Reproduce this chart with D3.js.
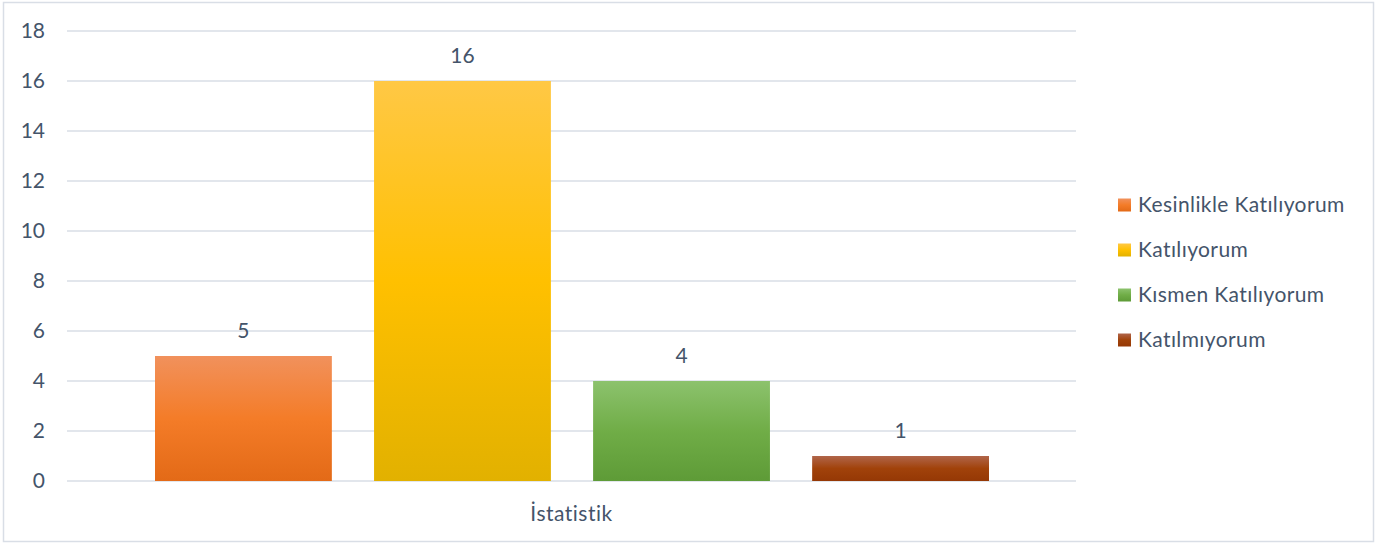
<!DOCTYPE html>
<html><head><meta charset="utf-8">
<script src="https://cdn.jsdelivr.net/npm/d3@7"></script>
<style>body{margin:0;background:#fff;} text{font-family:Lato,"Open Sans",sans-serif;}</style>
</head><body>
<svg id="c" width="1393" height="544"></svg>
<script>
const categories = ["İstatistik"];
const seriesNames = ["Kesinlikle Katılıyorum","Katılıyorum","Kısmen Katılıyorum","Katılmıyorum"];
const seriesValues = [5, 16, 4, 1];
const yTicks = [0,2,4,6,8,10,12,14,16,18];
const gradStops = [
  ["#F1915C","#F47C28","#E36A17"],
  ["#FFC845","#FFC000","#E2B100"],
  ["#8CC26D","#70AD47","#5E9B37"],
  ["#B0654A","#A1420A","#953805"]
];

const svg = d3.select("#c");
const textColor = "#44546A";
const fs = "21px";
svg.append("rect").attr("x",3.5).attr("y",2.5).attr("width",1370).attr("height",539)
  .attr("fill","#fff").attr("stroke","#D9DEE6").attr("stroke-width",1.5);

const defs = svg.append("defs");
gradStops.forEach((s,i)=>{
  const g = defs.append("linearGradient").attr("id","g"+i).attr("x1",0).attr("y1",0).attr("x2",0).attr("y2",1);
  g.append("stop").attr("offset","0%").attr("stop-color",s[0]);
  g.append("stop").attr("offset","50%").attr("stop-color",s[1]);
  g.append("stop").attr("offset","100%").attr("stop-color",s[2]);
});

const pLeft = 67, pRight = 1076, pTop = 31, pBottom = 481;
const y = d3.scaleLinear().domain([0,18]).range([pBottom, pTop]);
const x0 = d3.scaleBand().domain(categories).range([pLeft,pRight]).paddingInner(0).paddingOuter(0);
const x1 = d3.scaleBand().domain(seriesNames).range([155, 989]).paddingInner(42/218).paddingOuter(0);

// gridlines
svg.append("g").selectAll("line").data(yTicks).join("line")
  .attr("x1",pLeft).attr("x2",pRight).attr("y1",d=>y(d)).attr("y2",d=>y(d))
  .attr("stroke","#D9DEE6").attr("stroke-width",1.5);

// y axis labels
const yAxis = d3.axisLeft(y).tickValues(yTicks).tickSize(0).tickPadding(0);
const ya = svg.append("g").attr("transform",`translate(45,0)`).call(yAxis);
ya.select(".domain").remove();
ya.selectAll("text").attr("fill",textColor).style("font-size",fs).style("font-family","Lato");

// bars
svg.append("g").selectAll("rect").data(seriesValues).join("rect")
  .attr("x",(d,i)=>x1(seriesNames[i])).attr("width",x1.bandwidth())
  .attr("y",d=>y(d)).attr("height",d=>y(0)-y(d))
  .attr("fill",(d,i)=>`url(#g${i})`);

// labels
svg.append("g").selectAll("text").data(seriesValues).join("text")
  .attr("x",(d,i)=>x1(seriesNames[i])+x1.bandwidth()/2).attr("y",d=>y(d)-18)
  .attr("text-anchor","middle").attr("fill",textColor).style("font-size",fs).text(d=>d);

// x axis label
const xa = svg.append("g").attr("transform",`translate(0,${pBottom+25})`)
  .call(d3.axisBottom(x0).tickSize(0).tickPadding(0));
xa.select(".domain").remove();
xa.selectAll("text").attr("fill",textColor).style("font-size",fs).style("font-family","Lato")
  .style("letter-spacing","0.5px").attr("dy","0.71em");

// legend
const lg = svg.append("g").selectAll("g").data(seriesNames).join("g")
  .attr("transform",(d,i)=>`translate(1118,${205+i*45})`);
lg.append("rect").attr("x",0).attr("y",-6.5).attr("width",13).attr("height",13)
  .attr("fill",(d,i)=>`url(#g${i})`);
lg.append("text").attr("x",20).attr("y",0).attr("dy","0.35em").attr("fill",textColor)
  .style("font-size",fs).style("letter-spacing","0.4px").text(d=>d);
</script>
</body></html>
